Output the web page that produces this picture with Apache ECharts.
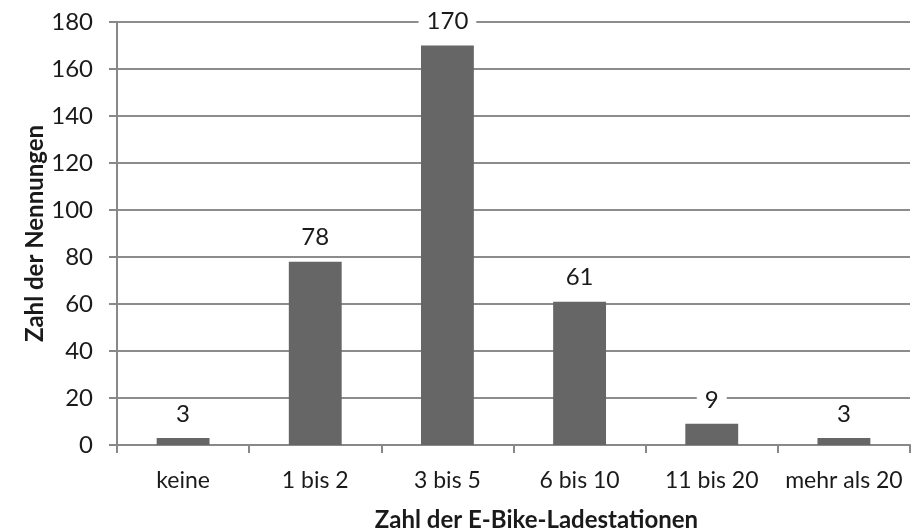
<!DOCTYPE html>
<html><head><meta charset="utf-8">
<script src="https://cdn.jsdelivr.net/npm/echarts@6/dist/echarts.min.js"></script>
<style>html,body{margin:0;padding:0;background:#fff}#c{width:919px;height:532px}</style>
</head><body><div id="c"></div>
<script>
var categories = ["keine", "1 bis 2", "3 bis 5", "6 bis 10", "11 bis 20", "mehr als 20"];
var values = [3, 78, 170, 61, 9, 3];
var yAxisTitle = "Zahl der Nennungen";
var xAxisTitle = "Zahl der E-Bike-Ladestationen";

var FONT = "Lato";
var chart = echarts.init(document.getElementById('c'));
chart.setOption({
  backgroundColor: '#ffffff',
  animation: false,
  grid: {left: 117, right: 9, top: 22, bottom: 87, containLabel: false, outerBoundsMode: 'none'},
  xAxis: {
    type: 'category', data: categories,
    axisLine: {lineStyle: {color: '#888888', width: 2}},
    axisTick: {show: true, length: 8, lineStyle: {color: '#888888', width: 2}},
    axisLabel: {interval: 0, color: '#1a1a1a', fontFamily: FONT, fontSize: 23, margin: 24},
    name: xAxisTitle, nameLocation: 'middle', nameGap: 63, nameMoveOverlap: false,
    nameTextStyle: {color: '#1a1a1a', fontFamily: FONT, fontSize: 24, fontWeight: 'bold', padding: [0, 0, 0, 46]}
  },
  yAxis: {
    type: 'value', min: 0, max: 180, interval: 20,
    axisLine: {show: true, lineStyle: {color: '#888888', width: 2}},
    axisTick: {show: true, length: 8, lineStyle: {color: '#888888', width: 2}},
    splitLine: {show: true, lineStyle: {color: '#8c8c8c', width: 2}},
    axisLabel: {color: '#1a1a1a', fontFamily: FONT, fontSize: 24, margin: 24},
    name: yAxisTitle, nameLocation: 'middle', nameGap: 70, nameMoveOverlap: false,
    nameTextStyle: {color: '#1a1a1a', fontFamily: FONT, fontSize: 24, fontWeight: 'bold'}
  },
  series: [{
    type: 'bar', data: values, barWidth: '40%',
    itemStyle: {color: '#666666'},
    label: {show: true, position: 'top', distance: 12, color: '#1a1a1a', fontFamily: FONT, fontSize: 24,
      backgroundColor: '#ffffff', padding: [0, 8]}
  }]
});
</script></body></html>
